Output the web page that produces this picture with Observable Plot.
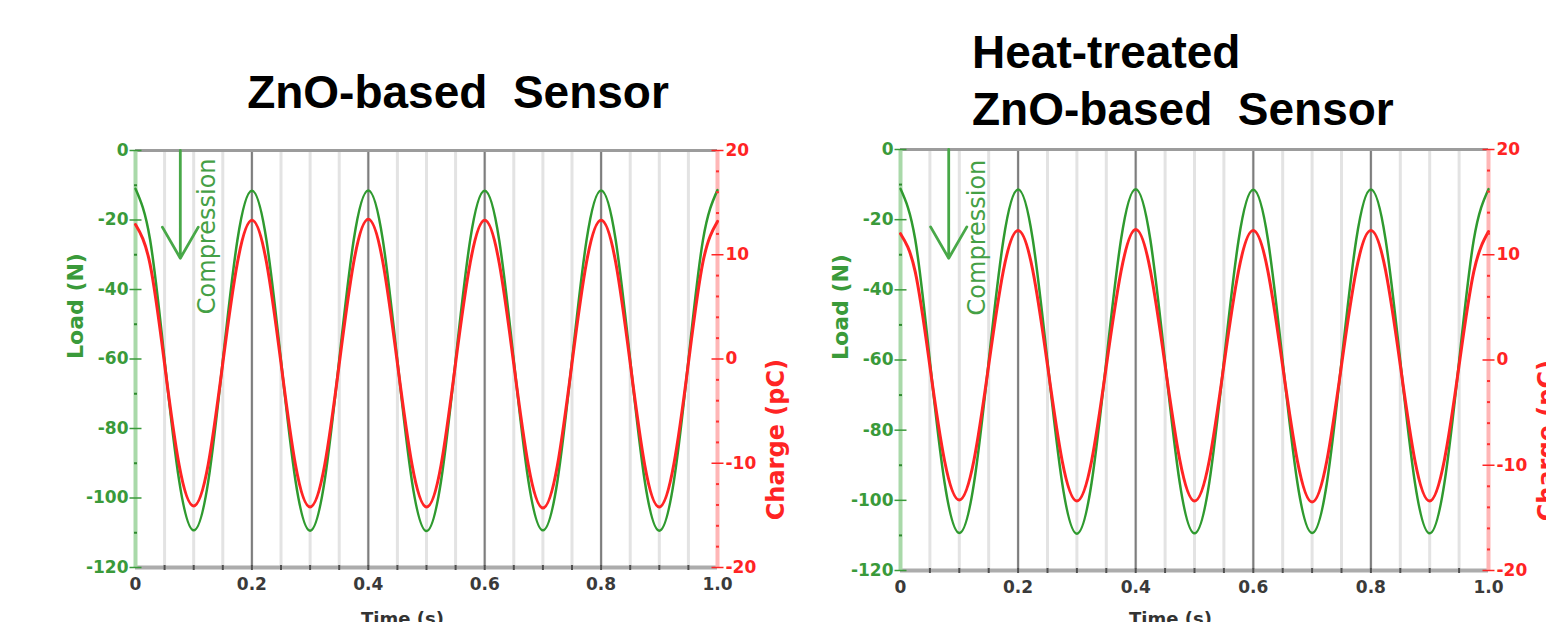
<!DOCTYPE html>
<html>
<head>
<meta charset="utf-8">
<script src="https://cdn.jsdelivr.net/npm/d3@7"></script>
<script src="https://cdn.jsdelivr.net/npm/@observablehq/plot@0.6"></script>
<style>
html, body { margin: 0; padding: 0; background: #fff; }
#page { position: relative; width: 1546px; height: 622px; overflow: hidden; background: #fff; }
.panel { position: absolute; top: 0; }
#titles { position: absolute; left: 0; top: 0; }
</style>
</head>
<body>
<div id="page"></div>
<script>
// ---------- data ----------
const time = [0, 0.025, 0.05, 0.075, 0.1, 0.125, 0.15, 0.175,
  0.2, 0.225, 0.25, 0.275, 0.3, 0.325, 0.35, 0.375,
  0.4, 0.425, 0.45, 0.475, 0.5, 0.525, 0.55, 0.575,
  0.6, 0.625, 0.65, 0.675, 0.7, 0.725, 0.75, 0.775,
  0.8, 0.825, 0.85, 0.875, 0.9, 0.925, 0.95, 0.975, 1.0];

// left panel: ZnO-based sensor
const loadZnO = [-11.0, -25.6, -60.3, -95.0, -109.3, -95.2, -60.5, -25.9,
  -11.6, -25.8, -60.4, -95.1, -109.4, -95.0, -60.3, -25.7,
  -11.5, -25.8, -60.5, -95.2, -109.5, -95.1, -60.4, -25.8,
  -11.6, -25.9, -60.4, -95.0, -109.3, -95.1, -60.5, -25.8,
  -11.5, -25.7, -60.3, -95.1, -109.4, -95.2, -60.4, -25.8, -11.4];
const chargeZnO = [12.9, 9.1, -0.5, -10.2, -14.1, -10.1, -0.4, 9.2,
  13.3, 9.3, -0.4, -10.2, -14.2, -10.2, -0.5, 9.3,
  13.4, 9.3, -0.4, -10.1, -14.2, -10.2, -0.4, 9.2,
  13.3, 9.2, -0.5, -10.2, -14.3, -10.2, -0.4, 9.3,
  13.3, 9.3, -0.4, -10.2, -14.2, -10.1, -0.4, 9.3, 13.2];

// right panel: heat-treated ZnO-based sensor
const loadHeat = [-11.2, -25.6, -60.3, -95.0, -109.3, -95.1, -60.4, -25.8,
  -11.4, -25.7, -60.4, -95.1, -109.5, -95.0, -60.3, -25.7,
  -11.3, -25.8, -60.5, -95.1, -109.4, -95.1, -60.4, -25.8,
  -11.5, -25.8, -60.4, -95.0, -109.3, -95.2, -60.5, -25.8,
  -11.4, -25.7, -60.3, -95.1, -109.4, -95.1, -60.4, -25.7, -11.3];
const chargeHeat = [12.0, 8.4, -0.6, -9.6, -13.3, -9.5, -0.5, 8.5,
  12.3, 8.5, -0.5, -9.6, -13.4, -9.6, -0.6, 8.4,
  12.4, 8.5, -0.5, -9.5, -13.4, -9.6, -0.5, 8.5,
  12.3, 8.4, -0.6, -9.6, -13.5, -9.6, -0.5, 8.5,
  12.3, 8.5, -0.5, -9.6, -13.4, -9.5, -0.5, 8.4, 12.2];

// axes
const loadTicks = [0, -20, -40, -60, -80, -100, -120];
const loadMinor = [-10, -30, -50, -70, -90, -110];
const chargeTicks = [20, 10, 0, -10, -20];
const chargeMinor = [18, 16, 14, 12, 8, 6, 4, 2, -2, -4, -6, -8, -12, -14, -16, -18];
const timeTicks = [0, 0.2, 0.4, 0.6, 0.8, 1.0];
const timeLabels = ["0", "0.2", "0.4", "0.6", "0.8", "1.0"];
const timeMinor = [0.05, 0.1, 0.15, 0.2, 0.25, 0.3, 0.35, 0.4, 0.45, 0.5,
  0.55, 0.6, 0.65, 0.7, 0.75, 0.8, 0.85, 0.9, 0.95];
const timeMajor = [0.2, 0.4, 0.6, 0.8];

// annotations (data units)
const arrowZnO = [{t: 0.077, from: 0, to: -31}];
const noteZnO = [{t: 0.124, load: -24.7, label: "Compression"}];
const arrowHeat = [{t: 0.082, from: 0, to: -31}];
const noteHeat = [{t: 0.131, load: -25.1, label: "Compression"}];

const titleLeft = ["ZnO-based  Sensor"];
const titleRight = ["Heat-treated", "ZnO-based  Sensor"];

// ---------- drawing ----------
const GREEN = "#2f9a2f";
const GREEN_TXT = "#3a9a3a";
const RED = "#ff2424";
const chargeToLoad = c => c * 3 - 60;   // charge axis [-20,20] shares the load frame [-120,0]

const hdash = {draw(ctx, size) { const r = Math.sqrt(size / Math.PI); ctx.moveTo(-r, 0); ctx.lineTo(r, 0); }};
const vdash = {draw(ctx, size) { const r = Math.sqrt(size / Math.PI); ctx.moveTo(0, -r); ctx.lineTo(0, r); }};

function panel(o) {
  const rows = time.map((t, i) => ({t, load: o.load[i], charge: chargeToLoad(o.charge[i])}));
  const bold = {fontWeight: "bold", fontFamily: "DejaVu Sans"};
  const chart = Plot.plot({
    width: 800, height: 640,
    marginTop: o.mt, marginBottom: o.mb, marginLeft: 135, marginRight: o.mr,
    x: {domain: [0, 1], axis: null},
    y: {domain: [-120, 0], axis: null},
    style: {fontFamily: "DejaVu Sans", background: "transparent", overflow: "visible"},
    marks: [
      Plot.ruleX(timeMinor, {x: d => d, stroke: "#e3e3e3", strokeWidth: 3}),
      Plot.ruleX(timeMajor, {x: d => d, stroke: "#7d7d7d", strokeWidth: 2}),
      Plot.ruleY([0], {y: d => d, stroke: "#9c9c9c", strokeWidth: 3}),
      Plot.ruleY([-120], {y: d => d, stroke: "#acacac", strokeWidth: 4}),
      Plot.ruleX([0], {x: d => d, stroke: "#a9d9a9", strokeWidth: 4}),
      Plot.ruleX([1], {x: d => d, stroke: "#ffb6b6", strokeWidth: 4}),
      Plot.arrow(o.arrow, {x1: "t", y1: "from", x2: "t", y2: "to", stroke: "#48a848", strokeWidth: 2.8, headLength: 22, headAngle: 60}),
      Plot.text(o.note, {x: "t", y: "load", text: "label", rotate: -90, fill: "#45a045", fontSize: 24, fontFamily: "DejaVu Sans"}),
      Plot.line(rows, {x: "t", y: "load", stroke: GREEN, strokeWidth: 2.5, curve: "natural"}),
      Plot.line(rows, {x: "t", y: "charge", stroke: RED, strokeWidth: 3, curve: "natural"}),
      // tick marks
      Plot.dot(timeMinor, {x: d => d, frameAnchor: "bottom", symbol: vdash, r: 2.5, stroke: "#505050", strokeWidth: 2, fill: "none"}),
      Plot.dot(loadTicks, {y: d => d, frameAnchor: "left", symbol: hdash, r: 6, stroke: GREEN_TXT, strokeWidth: 1.5, fill: "none"}),
      Plot.dot(loadMinor, {y: d => d, frameAnchor: "left", symbol: hdash, r: 1.5, stroke: "#2f8a2f", strokeWidth: 2, fill: "none"}),
      Plot.dot(chargeTicks, {y: d => chargeToLoad(d), frameAnchor: "right", symbol: hdash, r: 6, stroke: RED, strokeWidth: 1.5, fill: "none"}),
      Plot.dot(chargeMinor, {y: d => chargeToLoad(d), frameAnchor: "right", symbol: hdash, r: 1.5, stroke: "#ff3030", strokeWidth: 2, fill: "none"}),
      // tick labels
      Plot.text(loadTicks, {y: d => d, text: d => String(d), frameAnchor: "left", dx: -7, textAnchor: "end", fill: GREEN_TXT, fontSize: 17, ...bold}),
      Plot.text(chargeTicks, {y: d => chargeToLoad(d), text: d => String(d), frameAnchor: "right", dx: 8, textAnchor: "start", fill: RED, fontSize: 17, ...bold}),
      Plot.text(timeTicks, {x: d => d, text: (d, i) => timeLabels[i], frameAnchor: "bottom", dy: 22, fill: "#3a3a3a", fontSize: 17, ...bold}),
      // axis titles
      Plot.text(["Load (N)"], {text: d => d, frameAnchor: "left", dx: -60, rotate: -90, fill: GREEN_TXT, fontSize: 22, ...bold}),
      Plot.text(["Charge (pC)"], {text: d => d, frameAnchor: "right", dx: 59, rotate: -90, fill: RED, fontSize: 24, ...bold}),
      Plot.text(["Time (s)"], {text: d => d, frameAnchor: "bottom", dx: -24, dy: o.timeDy, lineAnchor: "top", fill: "#333", fontSize: 18, ...bold})
    ]
  });
  chart.classList.add("panel");
  chart.style.left = o.left + "px";
  chart.style.position = "absolute";
  chart.style.top = "0px";
  return chart;
}

const page = document.getElementById("page");
page.appendChild(panel({left: 0, mt: 150, mb: 73, mr: 83, load: loadZnO, charge: chargeZnO, arrow: arrowZnO, note: noteZnO, timeDy: 45}));
page.appendChild(panel({left: 765, mt: 149, mb: 70, mr: 77, load: loadHeat, charge: chargeHeat, arrow: arrowHeat, note: noteHeat, timeDy: 42}));

// titles
const svg = d3.select(page).append("svg").attr("id", "titles").attr("width", 1546).attr("height", 622);
const tstyle = sel => sel.attr("font-family", "Liberation Sans, Arial, sans-serif").attr("font-weight", "bold")
  .attr("font-size", 46).attr("fill", "#000").style("white-space", "pre");
svg.append("text").attr("x", 458).attr("y", 108).attr("text-anchor", "middle").text(titleLeft[0]).call(tstyle);
svg.selectAll("text.r").data(titleRight).join("text").attr("class", "r")
  .attr("x", 972).attr("y", (d, i) => 68 + i * 57).attr("text-anchor", "start").text(d => d).call(tstyle);
</script>
</body>
</html>
